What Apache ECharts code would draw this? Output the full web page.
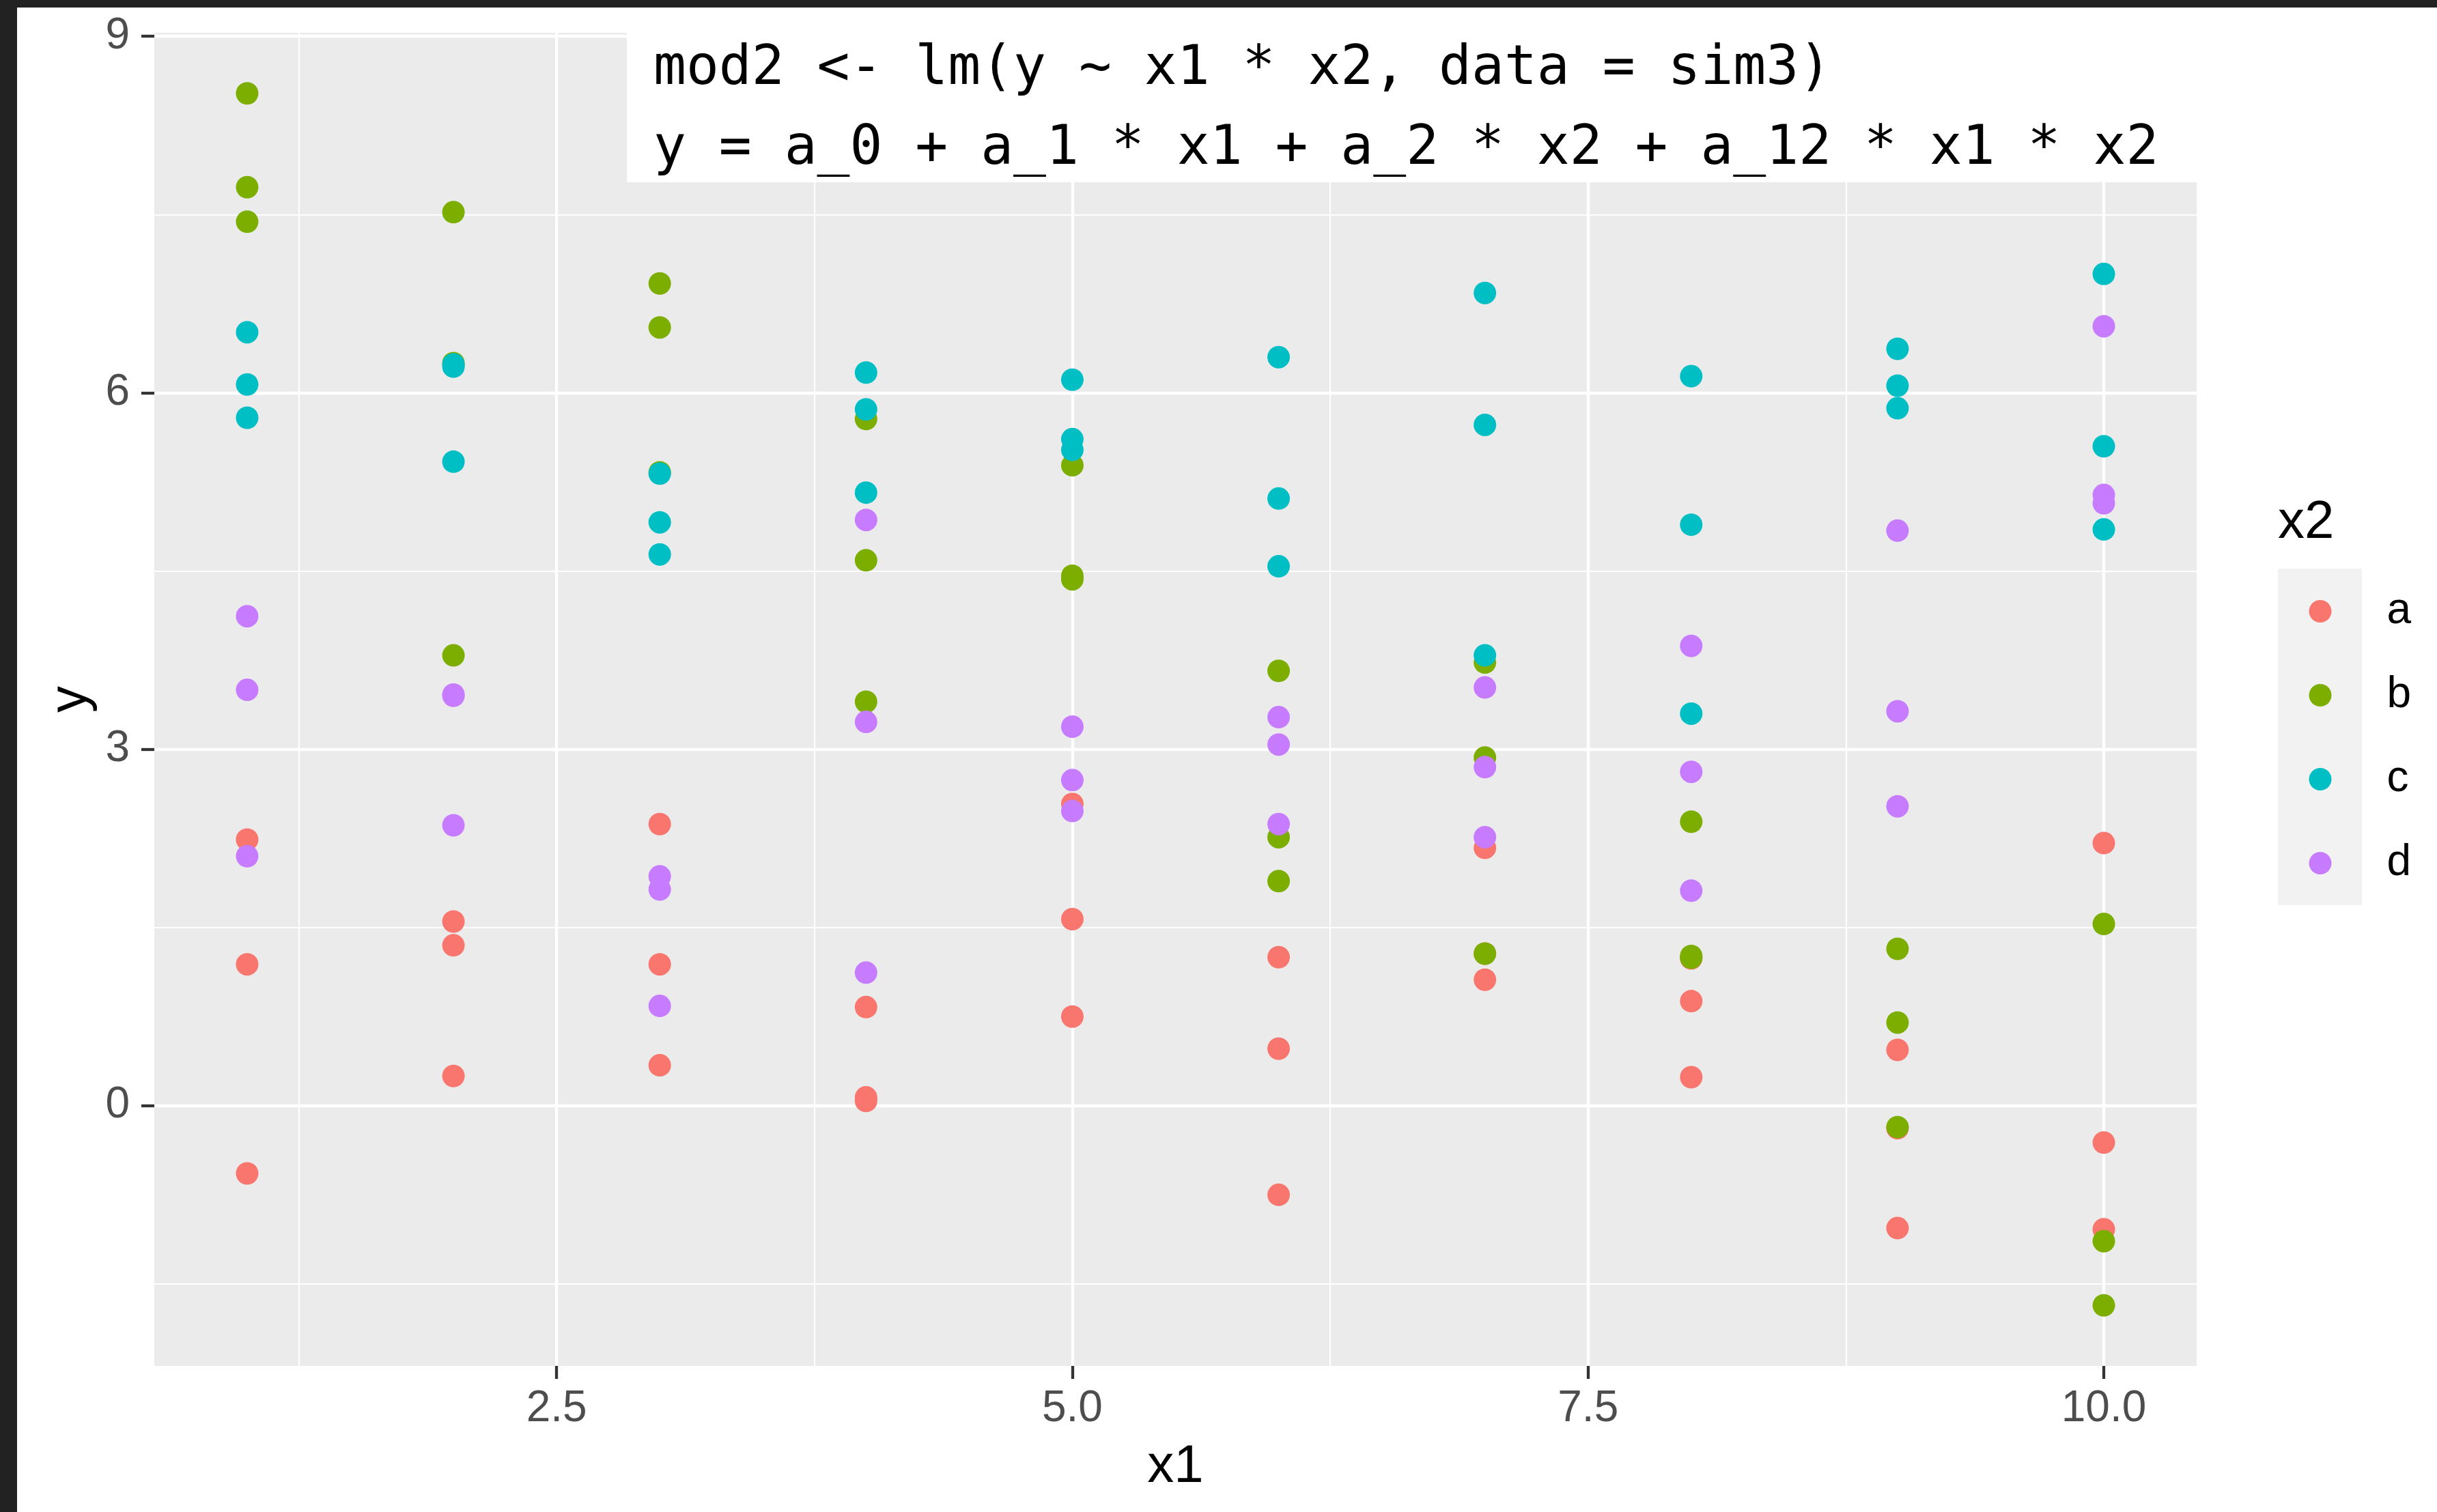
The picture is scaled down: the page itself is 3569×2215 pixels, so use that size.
<!DOCTYPE html>
<html>
<head>
<meta charset="utf-8">
<script src="https://cdn.jsdelivr.net/npm/echarts@6/dist/echarts.min.js"></script>
<style>
  html, body { margin: 0; padding: 0; background: #ffffff; }
  #chart { width: 3569px; height: 2215px; }
</style>
</head>
<body>
<div id="chart"></div>
<script>
// sim3: y against x1, coloured by the factor x2 (three replicates per cell)
const x1Levels = [1, 2, 3, 4, 5, 6, 7, 8, 9, 10];
const x2Levels = ['a', 'b', 'c', 'd'];
const x2Colors = ['#F8766D', '#7CAE00', '#00BFC4', '#C77CFF'];

// y values for each x1 level (index 0 -> x1 = 1)
const yA = [[2.24, 1.19, -0.57], [1.55, 1.35, 0.25], [2.37, 1.19, 0.34], [0.83, 0.07, 0.04], [2.54, 1.57, 0.75],
            [1.25, 0.48, -0.75], [2.17, 1.06, 1.28], [1.24, 0.88, 0.24], [0.47, -0.19, -1.03], [2.21, -0.31, -1.04]];
const yB = [[8.52, 7.73, 7.44], [7.52, 6.25, 3.79], [6.92, 6.55, 5.33], [5.78, 4.59, 3.40], [5.39, 4.46, 4.43],
            [3.66, 2.26, 1.89], [3.73, 2.93, 1.28], [2.39, 1.26, 1.245], [1.32, 0.70, -0.18], [1.53, -1.14, -1.68]];
const yC = [[6.51, 6.07, 5.79], [6.24, 6.22, 5.42], [5.32, 4.91, 4.64], [6.17, 5.86, 5.16], [6.11, 5.61, 5.52],
            [6.30, 5.11, 4.54], [6.84, 5.73, 3.79], [6.14, 4.89, 3.30], [6.37, 6.06, 5.87], [7.00, 5.55, 4.85]];
const yD = [[4.12, 3.50, 2.10], [3.46, 3.45, 2.36], [1.93, 1.82, 0.84], [4.93, 3.23, 1.12], [3.19, 2.74, 2.48],
            [3.27, 3.04, 2.37], [3.52, 2.85, 2.26], [3.87, 2.81, 1.81], [4.84, 3.32, 2.52], [6.56, 5.14, 5.07]];
const yByGroup = [yA, yB, yC, yD];

// axis breaks
const xBreaks = [2.5, 5, 7.5, 10];
const xMinorBreaks = [1.25, 3.75, 6.25, 8.75];
const yBreaks = [0, 3, 6, 9];
const yMinorBreaks = [-1.5, 1.5, 4.5, 7.5];

// annotation text
const modelLines = ['mod2 <- lm(y ~ x1 * x2, data = sim3)', 'y = a_0 + a_1 * x1 + a_2 * x2 + a_12 * x1 * x2'];

function toPoints(cols) {
  const pts = [];
  cols.forEach((ys, i) => ys.forEach(y => pts.push([x1Levels[i], y])));
  return pts;
}

// continuous-scale range padded by 5% on each side
function padded(values) {
  const lo = Math.min(...values), hi = Math.max(...values);
  const pad = (hi - lo) * 0.05;
  return [lo - pad, hi + pad];
}
const xRange = padded(x1Levels);
const yRange = padded(yByGroup.flat(2));

const GRID = { left: 226, top: 48, width: 2991, height: 1953 };
const MAJOR = 4.3, MINOR = 2.15;

const gridLines = [];
xBreaks.forEach(v => gridLines.push({ xAxis: v, lineStyle: { width: MAJOR } }));
xMinorBreaks.forEach(v => gridLines.push({ xAxis: v, lineStyle: { width: MINOR } }));
yBreaks.forEach(v => gridLines.push({ yAxis: v, lineStyle: { width: MAJOR } }));
yMinorBreaks.forEach(v => gridLines.push({ yAxis: v, lineStyle: { width: MINOR } }));

const pointSeries = x2Levels.map((name, i) => ({
  name: name,
  type: 'scatter',
  data: toPoints(yByGroup[i]),
  symbol: 'circle',
  symbolSize: 33,
  itemStyle: { color: x2Colors[i], opacity: 1 },
  z: 3,
  silent: true
}));

const gridSeries = {
  name: 'panel-grid',
  type: 'scatter',
  data: [],
  z: 1,
  silent: true,
  markLine: {
    z: 1,
    silent: true,
    animation: false,
    symbol: ['none', 'none'],
    label: { show: false },
    lineStyle: { color: '#FFFFFF', type: 'solid' },
    data: gridLines
  }
};

const chart = echarts.init(document.getElementById('chart'), null, { renderer: 'canvas', width: 3569, height: 2215 });

chart.setOption({
  animation: false,
  backgroundColor: '#FFFFFF',
  textStyle: { fontFamily: 'Liberation Sans' },
  grid: Object.assign({ show: true, backgroundColor: '#EBEBEB', borderWidth: 0, containLabel: false }, GRID),
  xAxis: {
    type: 'value',
    min: xRange[0],
    max: xRange[1],
    name: 'x1',
    nameLocation: 'middle',
    nameGap: 148,
    nameTextStyle: { fontSize: 78, color: '#000000', verticalAlign: 'middle', fontFamily: 'Liberation Sans' },
    axisLine: { show: false, onZero: false },
    splitLine: { show: false },
    axisTick: { show: true, length: 19, customValues: xBreaks, lineStyle: { color: '#333333', width: 4.3 } },
    axisLabel: {
      show: true, customValues: xBreaks, margin: 31, fontSize: 64, lineHeight: 64, color: '#4D4D4D',
      fontFamily: 'Liberation Sans', formatter: v => v.toFixed(1)
    }
  },
  yAxis: {
    type: 'value',
    min: yRange[0],
    max: yRange[1],
    name: 'y',
    nameLocation: 'middle',
    nameRotate: 90,
    nameGap: 117,
    nameTextStyle: { fontSize: 78, color: '#000000', verticalAlign: 'middle', fontFamily: 'Liberation Sans' },
    axisLine: { show: false, onZero: false },
    splitLine: { show: false },
    axisTick: { show: true, length: 19, customValues: yBreaks, lineStyle: { color: '#333333', width: 4.3 } },
    axisLabel: {
      show: true, customValues: yBreaks, margin: 36, fontSize: 64, color: '#4D4D4D',
      fontFamily: 'Liberation Sans', formatter: v => String(Math.round(v))
    }
  },
  legend: {
    data: x2Levels,
    orient: 'vertical',
    left: 3381.5,
    top: 863.5,
    padding: 0,
    itemWidth: 33,
    itemHeight: 33,
    itemGap: 59,
    icon: 'circle',
    selectedMode: false,
    textStyle: { fontSize: 64, color: '#000000', padding: [6, 0, 0, 76], fontFamily: 'Liberation Sans' }
  },
  graphic: [
    // legend key background
    { type: 'rect', left: 3336, top: 833, shape: { width: 123, height: 493 }, style: { fill: '#F2F2F2' }, z: -1, silent: true },
    // legend title
    { type: 'text', x: 3336, y: 766, style: { text: 'x2', fontSize: 78, fontFamily: 'Liberation Sans', fill: '#000000', align: 'left', verticalAlign: 'middle' }, z: 10, silent: true },
    // model annotation box
    { type: 'rect', shape: { x: 918, y: 11, width: 2300, height: 256 }, style: { fill: '#FFFFFF' }, z: 50, silent: true },
    { type: 'text', x: 957, y: 102, style: { text: modelLines[0], fontSize: 79.6, fontFamily: 'DejaVu Sans Mono', fill: '#000000', align: 'left', verticalAlign: 'middle' }, z: 51, silent: true },
    { type: 'text', x: 957, y: 219, style: { text: modelLines[1], fontSize: 79.6, fontFamily: 'DejaVu Sans Mono', fill: '#000000', align: 'left', verticalAlign: 'middle' }, z: 51, silent: true },
    // window frame edges
    { type: 'rect', shape: { x: 0, y: 0, width: 3569, height: 11 }, style: { fill: '#222222' }, z: 60, silent: true },
    { type: 'rect', shape: { x: 0, y: 0, width: 25, height: 2215 }, style: { fill: '#222222' }, z: 60, silent: true }
  ],
  series: [gridSeries].concat(pointSeries)
});
</script>
</body>
</html>
